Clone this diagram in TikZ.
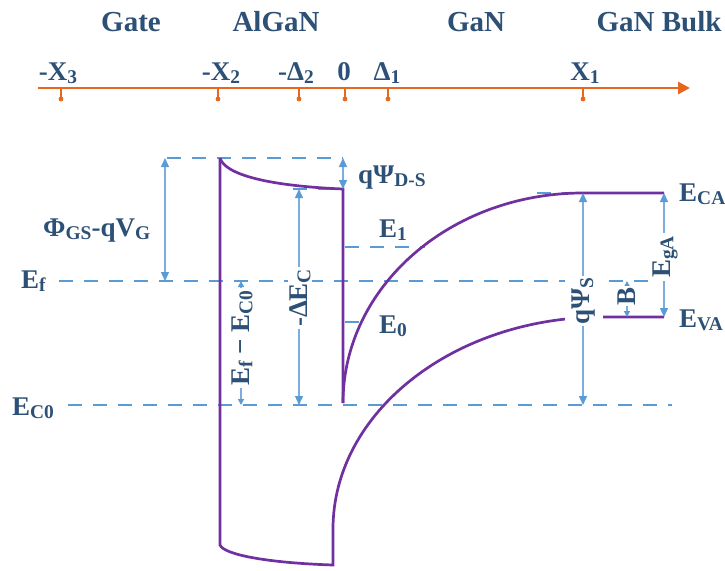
\documentclass[tikz,border=0pt]{standalone}
\usepackage{fontspec}
\setmainfont{Liberation Serif}
\usepackage{graphicx}
\usetikzlibrary{arrows.meta}
\definecolor{txt}{RGB}{44,80,118}
\definecolor{purp}{RGB}{112,48,160}
\definecolor{dsh}{RGB}{91,155,213}
\definecolor{arw}{RGB}{125,172,222}
\definecolor{orng}{RGB}{230,104,30}
\newcommand\lo[1]{\raisebox{-0.12em}{\scalebox{0.72}{#1}}}
\begin{document}
\begin{tikzpicture}[x=1pt,y=-1pt,
  lbl/.style={text=txt,font=\fontsize{27}{30}\selectfont\bfseries,inner sep=0pt},
  ttl/.style={text=txt,font=\fontsize{29}{32}\selectfont\bfseries,inner sep=0pt,anchor=base},
  axl/.style={text=txt,font=\fontsize{27}{30}\selectfont\bfseries,inner sep=0pt,anchor=base},
  rlbl/.style={lbl,rotate=90,fill=white},
  band/.style={draw=purp,line width=2.7pt},
  lvl/.style={draw=dsh,line width=2.7pt,dash pattern=on 14pt off 11pt},
  dim/.style={draw=arw,line width=1.4pt,{Triangle[length=9pt,width=8pt,color=dsh]}-{Triangle[length=9pt,width=8pt,color=dsh]}},
  dims/.style={draw=arw,line width=1.4pt,{Triangle[length=6pt,width=6pt,color=dsh]}-{Triangle[length=6pt,width=6pt,color=dsh]}},
  tickln/.style={draw=orng,line width=2.4pt}
]
\useasboundingbox (0,0) rectangle (725,570);

% ---------- axis ----------
\coordinate (ax0) at (38,88);
\coordinate (ax1) at (690,88);
\draw[draw=orng,line width=2.9pt,-{Triangle[length=12pt,width=12pt]}] (ax0) -- (ax1);
\foreach \nm/\xx in {tA/61,tB/218,tC/299,tD/345,tE/388,tF/583}{
  \coordinate (\nm) at (\xx,88);
  \coordinate (\nm d) at (\xx,99);
  \draw[tickln] (\nm) -- (\nm d);
  \fill[orng] (\nm d) circle (2.4pt);
}
\node[axl] (lX3) at (58,80) {-X\lo{3}};
\node[axl] (lX2) at (221,80) {-X\lo{2}};
\node[axl] (lD2) at (296,80) {-Δ\lo{2}};
\node[axl] (l0)  at (344,80) {0};
\node[axl] (lD1) at (387,80) {Δ\lo{1}};
\node[axl] (lX1) at (585,80) {X\lo{1}};

\node[ttl] (tGate) at (131,31) {Gate};
\node[ttl] (tAl)   at (276,31) {AlGaN};
\node[ttl] (tGaN)  at (476,31) {GaN};
\node[ttl] (tBulk) at (659,31) {GaN Bulk};

% ---------- levels (dashed) ----------
\coordinate (topL) at (167,158);
\coordinate (topR) at (343,158);
\coordinate (dsL) at (293,189);
\coordinate (dsR) at (343,189);
\coordinate (efL) at (59,281);
\coordinate (efR) at (650,281);
\coordinate (ecL) at (68,405);
\coordinate (ecR) at (672,405);
\coordinate (e1L) at (345,247);
\coordinate (e1R) at (425,247);
\coordinate (e0L) at (345,322);
\coordinate (e0R) at (364,322);
\coordinate (caL) at (537,193);
\draw[lvl] (topL) -- (topR);
\draw[lvl] (dsL) -- (dsR);
\draw[lvl] (efL) -- (efR);
\draw[lvl] (ecL) -- (ecR);
\draw[lvl] (e1L) -- (e1R);
\draw[lvl] (e0L) -- (e0R);
\draw[lvl] (caL) -- (583,193);

% ---------- bands ----------
\coordinate (g0) at (220,158);
\coordinate (s1) at (343,189);
\coordinate (g1) at (220,545);
\coordinate (b1) at (333,565);
\coordinate (b2) at (333,529);
\coordinate (c0) at (343,403);
\coordinate (ca) at (583,193);
\coordinate (ca2) at (664,193);
\coordinate (va0) at (603,317);
\coordinate (va2) at (664,317);
\draw[band] (g0) .. controls (225,175) and (270,186) .. (s1) -- (c0);
\draw[band] (g0) -- (g1) .. controls (224,555) and (270,563) .. (b1) -- (b2);
\draw[band] (c0) .. controls (343,287) and (450,193) .. (ca) -- (ca2);
\draw[band] (b2) .. controls (333,412) and (454,317) .. (va0) -- (va2);

% ---------- dimension arrows ----------
\coordinate (phT) at (165,158);
\coordinate (phB) at (165,281);
\draw[dim] (phT) -- (phB);
\node[lbl,anchor=base west] (lPhi) at (43,236) {Φ\lo{GS}-qV\lo{G}};

\coordinate (psT) at (343,158);
\coordinate (psB) at (343,189);
\draw[dim] (psT) -- (psB);
\node[lbl,anchor=base west] (lPsiDS) at (358,183) {qΨ\lo{D-S}};

\coordinate (deT) at (299,189);
\coordinate (deB) at (299,405);
\draw[dim] (deT) -- (deB);
\node[rlbl,inner xsep=2pt,inner ysep=1pt] (lDEc) at (300,298) {-ΔE\lo{C}};

\coordinate (fcT) at (241,281);
\coordinate (fcB) at (241,405);
\draw[dims] (fcT) -- (fcB);
\node[rlbl,inner xsep=2pt,inner ysep=1pt] (lEfEc) at (242,338) {E\lo{f} − E\lo{C0}};

\coordinate (qsT) at (583,193);
\coordinate (qsB) at (583,405);
\draw[dim] (qsT) -- (qsB);
\node[rlbl,inner xsep=2pt,inner ysep=7pt] (lPsiS) at (584,301) {qΨ\lo{S}};

\coordinate (egT) at (664,193);
\coordinate (egB) at (664,317);
\draw[dim] (egT) -- (egB);
\node[rlbl,inner xsep=3pt,inner ysep=1pt] (lEg) at (665,257) {E\lo{gA}};

\coordinate (bT) at (627,281);
\coordinate (bB) at (627,317);
\draw[dims] (bT) -- (bB);
\node[rlbl,inner xsep=1pt,inner ysep=1pt] (lB) at (627,296) {B};

% ---------- level labels ----------
\node[lbl,anchor=base west] (lEf)  at (21,288) {E\lo{f}};
\node[lbl,anchor=base west] (lEc0) at (12,415) {E\lo{C0}};
\node[lbl,anchor=base west] (lE1)  at (379,237) {E\lo{1}};
\node[lbl,anchor=base west] (lE0)  at (379,333) {E\lo{0}};
\node[lbl,anchor=base west] (lEca) at (679,201) {E\lo{CA}};
\node[lbl,anchor=base west] (lEva) at (679,327) {E\lo{VA}};
\end{tikzpicture}
\end{document}
